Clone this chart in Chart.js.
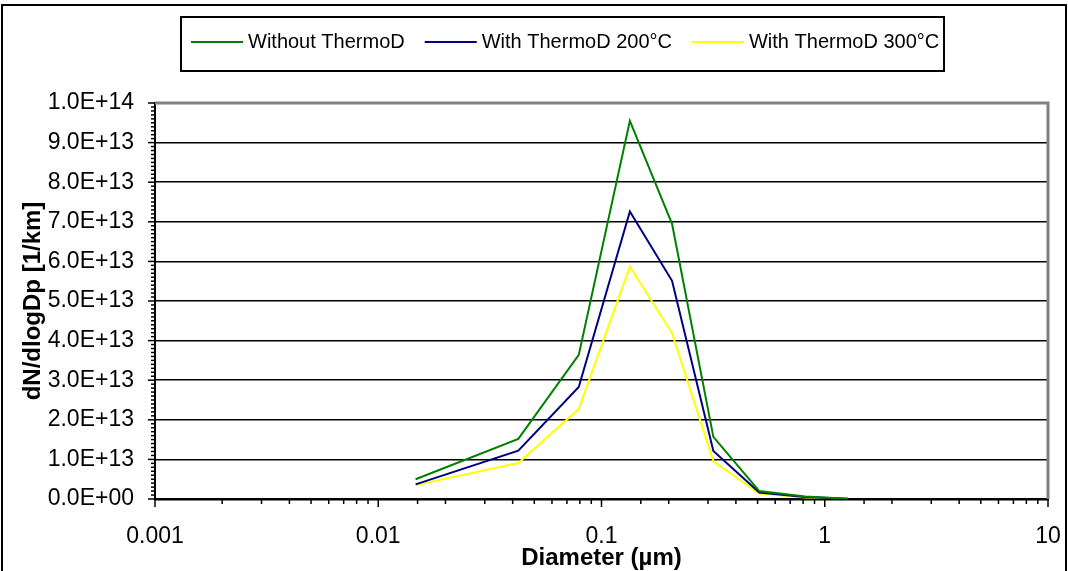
<!DOCTYPE html>
<html lang="en">
<head>
<meta charset="utf-8">
<title>Size distribution - ThermoD</title>
<script src="https://cdn.jsdelivr.net/npm/chart.js"></script>
<style>
  html, body { margin: 0; padding: 0; background: #fff; }
  #wrap { position: relative; width: 1068px; height: 571px; }
</style>
</head>
<body>
<div id="wrap"><canvas id="sizeChart"></canvas></div>
<script>
// particle diameter (µm), channel midpoints
var diameters = [0.0147, 0.0424, 0.0791, 0.134, 0.207, 0.317, 0.509, 0.816, 1.27];
// dN/dlogDp [1/km]
var withoutThermoD = [5.0e12, 1.52e13, 3.64e13, 9.55e13, 6.95e13, 1.57e13, 2.0e12, 6.5e11, 5e10];
var thermoD200 = [3.7e12, 1.22e13, 2.83e13, 7.26e13, 5.51e13, 1.21e13, 1.65e12, 5e11, 4e10];
var thermoD300 = [3.5e12, 0.91e13, 2.27e13, 5.87e13, 4.19e13, 0.95e13, 1.4e12, 4e11, 3e10];

var seriesLabels = ['Without ThermoD', 'With ThermoD 200°C', 'With ThermoD 300°C'];
var seriesColors = ['#008000', '#000080', '#FFFF00'];

var xTickLabels = ['0.001', '0.01', '0.1', '1', '10'];
var yTickLabels = ['0.0E+00', '1.0E+13', '2.0E+13', '3.0E+13', '4.0E+13', '5.0E+13',
                   '6.0E+13', '7.0E+13', '8.0E+13', '9.0E+13', '1.0E+14'];

var FONT = '"Liberation Sans", Arial, sans-serif';

function points(ys) {
    return diameters.map(function (d, i) { return { x: d, y: ys[i] }; });
}

function isDecade(v) {
    var l = Math.log10(v);
    return Math.abs(l - Math.round(l)) < 1e-6;
}

// minor ticks, plot border, boxed legend and outer frame
var decorations = {
    id: 'decorations',
    afterDraw: function (chart) {
        var ctx = chart.ctx, a = chart.chartArea;
        var xs = chart.scales.x, ys = chart.scales.y;
        ctx.save();

        ctx.strokeStyle = '#808080';
        ctx.lineWidth = 3;
        ctx.beginPath();
        ctx.moveTo(a.left, a.top);
        ctx.lineTo(a.right, a.top);
        ctx.lineTo(a.right, a.bottom);
        ctx.stroke();

        ctx.strokeStyle = '#000';
        ctx.lineWidth = 1.5;
        xs.ticks.forEach(function (t) {
            var p = xs.getPixelForValue(t.value);
            ctx.beginPath();
            ctx.moveTo(p, a.bottom);
            ctx.lineTo(p, a.bottom + (isDecade(t.value) ? 8 : 5));
            ctx.stroke();
        });
        for (var i = 0; i <= 100; i++) {
            var py = ys.getPixelForValue(i * 1e12);
            ctx.beginPath();
            ctx.moveTo(a.left, py);
            ctx.lineTo(a.left - (i % 10 === 0 ? 7 : 4), py);
            ctx.stroke();
        }

        // legend
        ctx.lineWidth = 2;
        ctx.strokeRect(181, 17, 763, 54);
        ctx.font = '20px ' + FONT;
        ctx.textBaseline = 'middle';
        ctx.fillStyle = '#000';
        var x = 191, ly = 42;
        chart.data.datasets.forEach(function (ds) {
            ctx.strokeStyle = ds.borderColor;
            ctx.lineWidth = 2;
            ctx.beginPath();
            ctx.moveTo(x, ly);
            ctx.lineTo(x + 52, ly);
            ctx.stroke();
            ctx.fillText(ds.label, x + 57, ly);
            x += 57 + ctx.measureText(ds.label).width + 20;
        });

        ctx.strokeStyle = '#000';
        ctx.lineWidth = 2;
        ctx.strokeRect(2, 5, 1064, 600);
        ctx.restore();
    }
};

var ctx = document.getElementById('sizeChart').getContext('2d');
var sizeChart = new Chart(ctx, {
    type: 'line',
    data: {
        datasets: [
            { label: seriesLabels[0], data: points(withoutThermoD), borderColor: seriesColors[0] },
            { label: seriesLabels[1], data: points(thermoD200), borderColor: seriesColors[1] },
            { label: seriesLabels[2], data: points(thermoD300), borderColor: seriesColors[2] }
        ]
    },
    options: {
        responsive: true,
        maintainAspectRatio: false,
        animation: false,
        layout: { padding: { top: 103, left: 10, right: 20, bottom: 0 } },
        elements: {
            line: { borderWidth: 2, tension: 0, fill: false },
            point: { radius: 0 }
        },
        plugins: {
            legend: { display: false },
            tooltip: { enabled: false }
        },
        scales: {
            x: {
                type: 'logarithmic',
                min: 0.001,
                max: 10,
                afterFit: function (s) {
                    s.height = 72;
                    s.paddingLeft = 0;
                    s.paddingRight = 0;
                },
                grid: { display: false },
                border: { color: '#000', width: 2.5 },
                ticks: {
                    autoSkip: false,
                    maxRotation: 0,
                    padding: 16,
                    color: '#000',
                    font: { family: FONT, size: 23 },
                    callback: function (v) {
                        if (!isDecade(v)) return '';
                        return xTickLabels[Math.round(Math.log10(v)) + 3];
                    }
                },
                title: {
                    display: true,
                    text: 'Diameter (µm)',
                    color: '#000',
                    font: { family: FONT, size: 24, weight: 'bold' },
                    padding: { top: 0, bottom: -2 }
                }
            },
            y: {
                min: 0,
                max: 1e14,
                afterFit: function (s) { s.width = 145; },
                grid: {
                    drawTicks: false,
                    lineWidth: 1.5,
                    color: function (c) { return c.tick && c.tick.value >= 1e14 ? 'rgba(0,0,0,0)' : '#000'; }
                },
                border: { color: '#000', width: 2 },
                ticks: {
                    stepSize: 1e13,
                    padding: 21,
                    color: '#000',
                    font: { family: FONT, size: 23 },
                    callback: function (v, i) { return yTickLabels[i]; }
                },
                title: {
                    display: true,
                    text: 'dN/dlogDp [1/km]',
                    color: '#000',
                    font: { family: FONT, size: 24, weight: 'bold' },
                    padding: { top: 9, bottom: 0 }
                }
            }
        }
    },
    plugins: [decorations]
});
</script>
</body>
</html>
